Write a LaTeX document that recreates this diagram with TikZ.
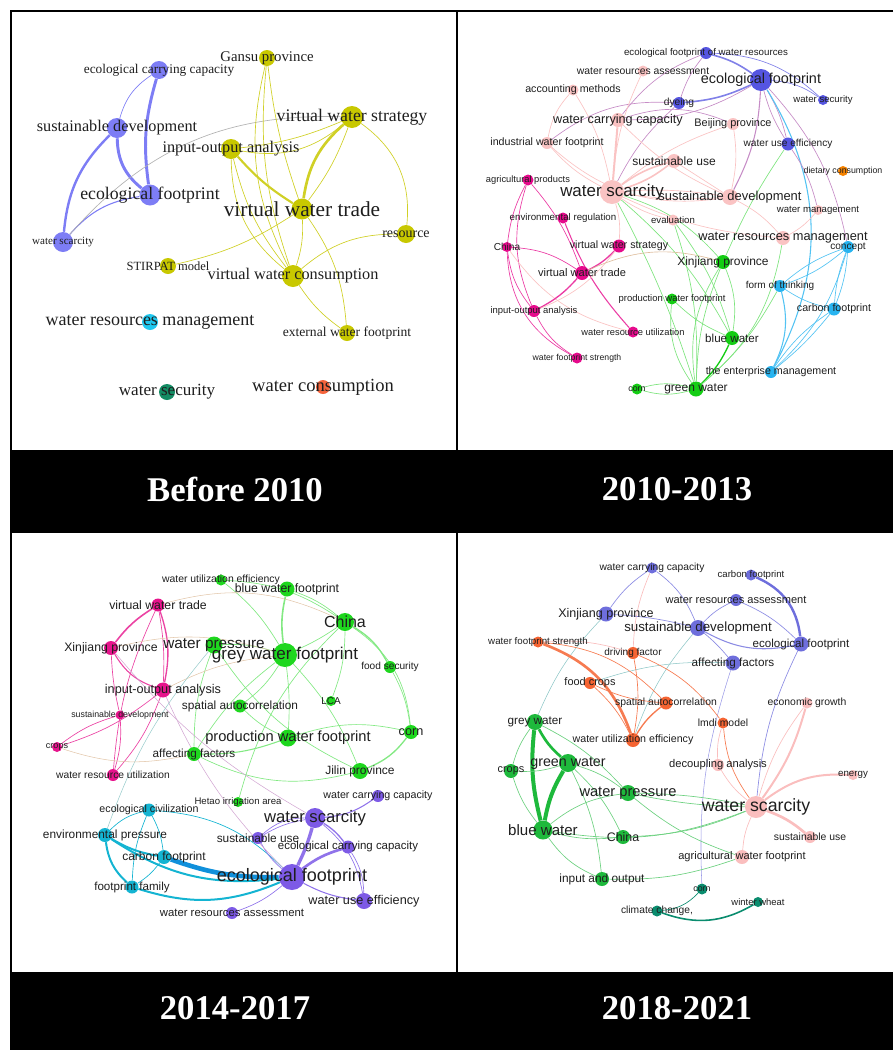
\documentclass[tikz,border=0pt]{standalone}
\usepackage{fontspec}
\setmainfont{Liberation Sans}
\newfontfamily\tnr{Liberation Serif}
\usepackage{tikz}
\usetikzlibrary{backgrounds}
\definecolor{labc}{RGB}{30,30,30}
\definecolor{c1b}{RGB}{125,125,245}
\definecolor{c1y}{RGB}{200,200,0}
\definecolor{c1c}{RGB}{30,200,240}
\definecolor{c1d}{RGB}{20,140,100}
\definecolor{c1o}{RGB}{245,100,60}
\definecolor{c2b}{RGB}{85,85,225}
\definecolor{c2p}{RGB}{250,195,195}
\definecolor{c2m}{RGB}{230,10,140}
\definecolor{c2g}{RGB}{20,205,20}
\definecolor{c2c}{RGB}{40,180,240}
\definecolor{c2o}{RGB}{245,130,0}
\definecolor{c3g}{RGB}{30,215,30}
\definecolor{c3m}{RGB}{230,20,140}
\definecolor{c3c}{RGB}{20,180,210}
\definecolor{c3p}{RGB}{125,90,230}
\definecolor{c4b}{RGB}{110,110,220}
\definecolor{c4o}{RGB}{245,100,50}
\definecolor{c4g}{RGB}{30,185,60}
\definecolor{c4p}{RGB}{250,190,190}
\definecolor{c4t}{RGB}{10,140,110}

\begin{document}
\begin{tikzpicture}[x=0.75pt,y=-0.75pt,
  kw/.style={circle,inner sep=0pt,minimum size=1.5*#1pt},
  tx/.style 2 args={label={[font=\fontsize{#1}{#1}\selectfont,text=labc,inner sep=0pt]center:#2}},
  ts/.style 2 args={label={[font=\tnr\fontsize{#1}{#1}\selectfont,text=labc,inner sep=0pt]center:#2}},
  bartxt/.style={text=white,font=\tnr\bfseries\fontsize{26}{26}\selectfont},
  p1b/.style={draw=c1b,line width=#1pt},p1b/.default=0.5,
  p1y/.style={draw=c1y!85!white,line width=#1pt},p1y/.default=0.5,
  p1g/.style={draw=gray!60,line width=#1pt},p1g/.default=0.5,
  p2b/.style={draw=c2b!75!white,line width=#1pt},p2b/.default=0.5,
  p2v/.style={draw=violet!45!white,line width=#1pt},p2v/.default=0.5,
  p2p/.style={draw=c2p,line width=#1pt},p2p/.default=0.5,
  p2m/.style={draw=c2m!80!white,line width=#1pt},p2m/.default=0.5,
  p2g/.style={draw=c2g!55!white,line width=#1pt},p2g/.default=0.5,
  p2c/.style={draw=c2c!80!white,line width=#1pt},p2c/.default=0.5,
  p3m/.style={draw=c3m!80!white,line width=#1pt},p3m/.default=0.5,
  p3g/.style={draw=c3g!55!white,line width=#1pt},p3g/.default=0.5,
  p3c/.style={draw=c3c,line width=#1pt},p3c/.default=0.5,
  p3p/.style={draw=c3p!85!white,line width=#1pt},p3p/.default=0.5,
  p3x/.style={draw=brown!45!white,line width=#1pt},p3x/.default=0.4,
  p4b/.style={draw=c4b!80!white,line width=#1pt},p4b/.default=0.5,
  p4o/.style={draw=c4o!85!white,line width=#1pt},p4o/.default=0.5,
  p4g/.style={draw=c4g!65!white,line width=#1pt},p4g/.default=0.5,
  p4p/.style={draw=c4p,line width=#1pt},p4p/.default=0.5,
  p4t/.style={draw=c4t,line width=#1pt},p4t/.default=0.5,
  p4x/.style={draw=teal!45!white,line width=#1pt},p4x/.default=0.4]
\useasboundingbox (0,0) rectangle (893,1050);

% Before 2010
\path (159,70) node(ecc1)[kw=9,fill=c1b,ts={10}{ecological carrying capacity}]{}
  (267,58) node(gansu)[kw=8,fill=c1y,ts={11.1}{Gansu province}]{}
  (352,117) node(vws1)[kw=11,fill=c1y,ts={13.3}{virtual water strategy}]{}
  (117,128) node(sd1)[kw=10,fill=c1b,ts={12.2}{sustainable development}]{}
  (231,149) node(io1)[kw=10,fill=c1y,ts={12.2}{input-output analysis}]{}
  (150,195) node(ef1)[kw=10.5,fill=c1b,ts={13.3}{ecological footprint}]{}
  (302,209) node(vwt1)[kw=10.5,fill=c1y,ts={16}{virtual water trade}]{}
  (63,242) node(wsc1)[kw=10,fill=c1b,ts={8.3}{water scarcity}]{}
  (406,234) node(res1)[kw=9,fill=c1y,ts={10.5}{resource}]{}
  (168,266) node(stirpat)[kw=8,fill=c1y,ts={9.4}{STIRPAT model}]{}
  (293,276) node(vwc1)[kw=11,fill=c1y,ts={12.2}{virtual water consumption}]{}
  (150,322) node(wrm1)[kw=8,fill=c1c,ts={13.5}{water resources management}]{}
  (347,333) node(ewf1)[kw=8,fill=c1y,ts={10.2}{external water footprint}]{}
  (167,392) node(wsec1)[kw=8,fill=c1d,ts={12.8}{water security}]{}
  (323,387) node(wcon1)[kw=7,fill=c1o,ts={13.9}{water consumption}]{};

% 2010-2013
\path (706,53) node(efwr2)[kw=6,fill=c2b,tx={7.3}{ecological footprint of water resources}]{}
  (643,71) node(wra2)[kw=5.5,fill=c2p,tx={7.8}{water resources assessment}]{}
  (761,80) node(ef2)[kw=11,fill=c2b,tx={10.8}{ecological footprint}]{}
  (573,90) node(acc2)[kw=5.5,fill=c2p,tx={8}{accounting methods}]{}
  (679,103) node(dye2)[kw=6,fill=c2b,tx={7.7}{dyeing}]{}
  (823,100) node(wsec2)[kw=5,fill=c2b,tx={7.2}{water security}]{}
  (618,120) node(wcc2)[kw=7,fill=c2p,tx={9.5}{water carrying capacity}]{}
  (733,124) node(bj2)[kw=6,fill=c2p,tx={8.2}{Beijing province}]{}
  (547,143) node(iwf2)[kw=6,fill=c2p,tx={8}{industrial water footprint}]{}
  (788,144) node(wue2)[kw=6.5,fill=c2b,tx={7.6}{water use efficiency}]{}
  (674,161) node(su2)[kw=7,fill=c2p,tx={9}{sustainable use}]{}
  (843,171) node(diet2)[kw=5,fill=c2o,tx={6.6}{dietary consumption}]{}
  (528,180) node(ap2)[kw=5.5,fill=c2m,tx={7}{agricultural products}]{}
  (612,192) node(wsc2)[kw=12,fill=c2p,tx={12.7}{water scarcity}]{}
  (730,197) node(sd2)[kw=8,fill=c2p,tx={9.7}{sustainable development}]{}
  (818,210) node(wm2)[kw=5,fill=c2p,tx={7.2}{water management}]{}
  (563,218) node(er2)[kw=5.5,fill=c2m,tx={7.3}{environmental regulation}]{}
  (673,220) node(eva2)[kw=5.5,fill=c2p,tx={7.2}{evaluation}]{}
  (783,238) node(wrm2)[kw=7,fill=c2p,tx={9.6}{water resources management}]{}
  (507,247) node(china2)[kw=5,fill=c2m,tx={7.6}{China}]{}
  (619,246) node(vws2)[kw=6.5,fill=c2m,tx={8}{virtual water strategy}]{}
  (848,247) node(con2)[kw=6,fill=c2c,tx={7.6}{concept}]{}
  (723,262) node(xj2)[kw=7,fill=c2g,tx={9}{Xinjiang province}]{}
  (582,273) node(vwt2)[kw=7,fill=c2m,tx={8.3}{virtual water trade}]{}
  (780,286) node(fot2)[kw=6,fill=c2c,tx={7.5}{form of thinking}]{}
  (672,299) node(pwf2)[kw=5.5,fill=c2g,tx={7.1}{production water footprint}]{}
  (534,311) node(io2)[kw=6,fill=c2m,tx={7.1}{input-output analysis}]{}
  (834,309) node(cf2)[kw=6.5,fill=c2c,tx={8}{carbon footprint}]{}
  (633,332) node(wru2)[kw=5.5,fill=c2m,tx={7}{water resource utilization}]{}
  (732,338) node(bw2)[kw=7,fill=c2g,tx={8.7}{blue water}]{}
  (577,358) node(wfs2)[kw=5.5,fill=c2m,tx={6.5}{water footprint strength}]{}
  (771,372) node(ent2)[kw=6,fill=c2c,tx={8}{the enterprise management}]{}
  (637,389) node(corn2)[kw=5.5,fill=c2g,tx={6.6}{corn}]{}
  (696,389) node(gw2)[kw=7.5,fill=c2g,tx={9}{green water}]{};

% 2014-2017
\path (221,580) node(wue3)[kw=5.5,fill=c3g,tx={7.8}{water utilization efficiency}]{}
  (287,589) node(bwf3)[kw=7.5,fill=c3g,tx={9.2}{blue water footprint}]{}
  (158,605) node(vwt3)[kw=6.5,fill=c3m,tx={9.2}{virtual water trade}]{}
  (345,622) node(china3)[kw=9,fill=c3g,tx={12}{China}]{}
  (111,648) node(xj3)[kw=7,fill=c3m,tx={9.2}{Xinjiang province}]{}
  (214,645) node(wp3)[kw=8.5,fill=c3g,tx={11.5}{water pressure}]{}
  (285,655) node(gwf3)[kw=12,fill=c3g,tx={12.8}{grey water footprint}]{}
  (390,667) node(fs3)[kw=6,fill=c3g,tx={7.6}{food security}]{}
  (163,690) node(io3)[kw=7.5,fill=c3m,tx={9.5}{input-output analysis}]{}
  (240,706) node(sa3)[kw=6.5,fill=c3g,tx={8.9}{spatial autocorrelation}]{}
  (331,701) node(lca3)[kw=5,fill=c3g,tx={7.5}{LCA}]{}
  (120,715) node(sd3)[kw=4.5,fill=c3m,tx={6.6}{sustainable development}]{}
  (411,732) node(corn3)[kw=7,fill=c3g,tx={9.5}{corn}]{}
  (288,738) node(pwf3)[kw=8.5,fill=c3g,tx={11}{production water footprint}]{}
  (57,747) node(crops3)[kw=5,fill=c3m,tx={6.8}{crops}]{}
  (194,754) node(af3)[kw=7,fill=c3g,tx={8.8}{affecting factors}]{}
  (113,775) node(wru3)[kw=6,fill=c3m,tx={7.7}{water resource utilization}]{}
  (360,771) node(jl3)[kw=8,fill=c3g,tx={9}{Jilin province}]{}
  (378,796) node(wcc3)[kw=6,fill=c3p,tx={8}{water carrying capacity}]{}
  (238,802) node(hetao3)[kw=5,fill=c3g,tx={7.2}{Hetao irrigation area}]{}
  (149,810) node(ec3)[kw=6.5,fill=c3c,tx={8}{ecological civilization}]{}
  (315,818) node(wsc3)[kw=10,fill=c3p,tx={12.5}{water scarcity}]{}
  (105,835) node(ep3)[kw=7,fill=c3c,tx={8.9}{environmental pressure}]{}
  (258,838) node(su3)[kw=6,fill=c3p,tx={8.9}{sustainable use}]{}
  (348,847) node(ecc3)[kw=6.5,fill=c3p,tx={8.6}{ecological carrying capacity}]{}
  (164,857) node(cf3)[kw=7,fill=c3c,tx={9}{carbon footprint}]{}
  (292,877) node(ef3)[kw=13,fill=c3p,tx={13.5}{ecological footprint}]{}
  (132,887) node(ff3)[kw=6.5,fill=c3c,tx={8.7}{footprint family}]{}
  (364,901) node(wuse3)[kw=8,fill=c3p,tx={9.5}{water use efficiency}]{}
  (232,913) node(wra3)[kw=6,fill=c3p,tx={8.5}{water resources assessment}]{};

% 2018-2021
\path (652,568) node(wcc4)[kw=5.5,fill=c4b,tx={7.7}{water carrying capacity}]{}
  (751,575) node(cf4)[kw=5.5,fill=c4b,tx={7.2}{carbon footprint}]{}
  (736,600) node(wra4)[kw=6,fill=c4b,tx={8.3}{water resources assessment}]{}
  (606,614) node(xj4)[kw=7.5,fill=c4b,tx={9.4}{Xinjiang province}]{}
  (698,628) node(sd4)[kw=8,fill=c4b,tx={10}{sustainable development}]{}
  (538,642) node(wfs4)[kw=5.5,fill=c4o,tx={7.3}{water footprint strength}]{}
  (801,644) node(ef4)[kw=7.5,fill=c4b,tx={8.7}{ecological footprint}]{}
  (633,653) node(df4)[kw=6,fill=c4o,tx={7.5}{driving factor}]{}
  (733,663) node(af4)[kw=7.5,fill=c4b,tx={8.8}{affecting factors}]{}
  (590,683) node(fc4)[kw=6,fill=c4o,tx={8.2}{food crops}]{}
  (666,703) node(sa4)[kw=6.5,fill=c4o,tx={7.8}{spatial autocorrelation}]{}
  (807,703) node(eg4)[kw=5.5,fill=c4p,tx={7.8}{economic growth}]{}
  (535,722) node(grey4)[kw=8,fill=c4g,tx={8.8}{grey water}]{}
  (723,723) node(lmdi4)[kw=5.5,fill=c4o,tx={7.8}{lmdi model}]{}
  (633,740) node(wue4)[kw=7,fill=c4o,tx={8}{water utilization efficiency}]{}
  (568,763) node(gw4)[kw=9,fill=c4g,tx={10.7}{green water}]{}
  (511,771) node(crops4)[kw=7,fill=c4g,tx={8.2}{crops}]{}
  (718,765) node(dec4)[kw=6,fill=c4p,tx={8.4}{decoupling analysis}]{}
  (853,775) node(en4)[kw=5,fill=c4p,tx={7.3}{energy}]{}
  (628,793) node(wp4)[kw=8,fill=c4g,tx={11}{water pressure}]{}
  (756,807) node(wsc4)[kw=11,fill=c4p,tx={13.3}{water scarcity}]{}
  (543,830) node(bw4)[kw=9.5,fill=c4g,tx={11.3}{blue water}]{}
  (623,837) node(china4)[kw=7,fill=c4g,tx={9.3}{China}]{}
  (810,837) node(su4)[kw=6,fill=c4p,tx={7.8}{sustainable use}]{}
  (742,857) node(awf4)[kw=7,fill=c4p,tx={8.3}{agricultural water footprint}]{}
  (602,879) node(io4)[kw=7,fill=c4g,tx={8.9}{input and output}]{}
  (702,889) node(corn4)[kw=5.5,fill=c4t,tx={6.6}{corn}]{}
  (758,902) node(ww4)[kw=5,fill=c4t,tx={7.1}{winter wheat}]{}
  (657,911) node(cc4)[kw=5.5,fill=c4t,tx={7.7}{{climate change,}}]{};

\begin{scope}[on background layer]
% Before 2010
\draw[p1b, bend right=20] (ecc1) to (sd1);
\draw[p1b=2.2, bend right=12] (ecc1) to (ef1);
\draw[p1b=2.2, bend right=25] (sd1) to (ef1);
\draw[p1b=1.8, bend right=20] (sd1) to (wsc1);
\draw[p1b=0.8, bend right=20] (ef1) to (wsc1);
\draw[p1g, bend left=25] (wsc1) to (vws1);
\draw[p1y, bend right=20] (gansu) to (vwc1);
\draw[p1y, bend right=12] (gansu) to (vwc1);
\draw[p1y, bend right=6] (gansu) to (vwt1);
\draw[p1y=2, bend right=20] (vws1) to (vwt1);
\draw[p1y, bend left=8] (vws1) to (vwt1);
\draw[p1y, bend left=25] (vws1) to (io1);
\draw[p1y, bend left=8] (vws1) to (io1);
\draw[p1y, bend left=30] (vws1) to (res1);
\draw[p1y=1.6, bend right=8] (io1) to (vwt1);
\draw[p1y, bend right=25] (io1) to (vwc1);
\draw[p1y, bend right=12] (io1) to (vwc1);
\draw[p1y, bend left=10] (vwt1) to (vwc1);
\draw[p1y, bend left=15] (vwt1) to (ewf1);
\draw[p1y, bend left=10] (vwt1) to (stirpat);
\draw[p1y, bend left=20] (vwc1) to (res1);
\draw[p1y, bend right=10] (vwc1) to (ewf1);

% 2010-2013
\draw[p2b=1.2, bend right=10] (ef2) to (efwr2);
\draw[p2b, bend left=20] (efwr2) to (wsec2);
\draw[p2b=1.2, bend left=10] (ef2) to (dye2);
\draw[p2b, bend left=15] (ef2) to (wsec2);
\draw[p2v, bend left=8] (ef2) to (wue2);
\draw[p2v, bend right=8] (ef2) to (wue2);
\draw[p2v=0.8, bend left=12] (ef2) to (sd2);
\draw[p2v, bend left=15] (ef2) to (wcc2);
\draw[p2c=0.8, bend left=30] (ef2) to (ent2);
\draw[p2v, bend left=15] (ef2) to (con2);
\draw[p2v, bend right=10] (dye2) to (wsc2);
\draw[p2v, bend right=20] (dye2) to (iwf2);
\draw[p2v, bend right=10] (efwr2) to (dye2);
\draw[p2v, bend right=15] (efwr2) to (wcc2);
\draw[p2v, bend left=20] (wcc2) to (bj2);
\draw[p2g, bend right=5] (wue2) to (xj2);
\draw[p2v, bend left=10] (wue2) to (wm2);
\draw[p2p=1.2, bend left=10] (wsc2) to (su2);
\draw[p2p=1.2, bend right=10] (wsc2) to (su2);
\draw[p2p, bend left=10] (wsc2) to (bj2);
\draw[p2p, bend left=10] (wsc2) to (wra2);
\draw[p2p, bend right=10] (wsc2) to (acc2);
\draw[p2p, bend left=10] (wsc2) to (iwf2);
\draw[p2p, bend right=10] (wsc2) to (eva2);
\draw[p2p, bend left=6] (wsc2) to (sd2);
\draw[p2p, bend right=6] (wsc2) to (sd2);
\draw[p2p, bend right=10] (wsc2) to (wrm2);
\draw[p2p=1.5] (wsc2) to (wcc2);
\draw[p2p, bend left=10] (wsc2) to (vws2);
\draw[p2p, bend right=10] (wcc2) to (sd2);
\draw[p2p, bend right=25] (iwf2) to (sd2);
\draw[p2p, bend right=15] (acc2) to (iwf2);
\draw[p2p, bend left=10] (bj2) to (sd2);
\draw[p2p, bend left=10] (sd2) to (wrm2);
\draw[p2p, bend right=10] (wrm2) to (wm2);
\draw[p2p] (su2) to (sd2);
\draw[p2g, bend left=20] (wrm2) to (gw2);
\draw[p2g, bend left=15] (wsc2) to (xj2);
\draw[p2g, bend left=10] (wsc2) to (bw2);
\draw[p2g, bend left=5] (wsc2) to (gw2);
\draw[p2m, bend right=10] (ap2) to (china2);
\draw[p2m, bend left=10] (ap2) to (vwt2);
\draw[p2m, bend right=20] (ap2) to (io2);
\draw[p2m=0.8, bend right=10] (er2) to (wru2);
\draw[p2m, bend right=15] (china2) to (io2);
\draw[p2m, bend left=15] (china2) to (vwt2);
\draw[p2m, bend right=30] (china2) to (wfs2);
\draw[p2p, bend right=20] (china2) to (wru2);
\draw[p2m=1, bend right=10] (vwt2) to (vws2);
\draw[p2m=1, bend left=10] (vwt2) to (io2);
\draw[p2p, bend right=15] (io2) to (vws2);
\draw[p2m, bend right=15] (io2) to (wfs2);
\draw[draw=brown!50, line width=0.5pt, bend left=20] (vwt2) to (xj2);
\draw[p2g, bend left=15] (xj2) to (bw2);
\draw[p2g, bend right=10] (xj2) to (gw2);
\draw[p2g, bend right=20] (xj2) to (gw2);
\draw[p2g, bend right=10] (pwf2) to (bw2);
\draw[p2g, bend right=20] (pwf2) to (gw2);
\draw[draw=c2g, line width=1pt, bend left=10] (bw2) to (gw2);
\draw[p2g, bend left=15] (corn2) to (gw2);
\draw[p2g, bend right=15] (corn2) to (gw2);
\draw[p2g, bend left=10] (eva2) to (gw2);
\draw[p2g, bend left=10] (eva2) to (bw2);
\draw[p2c, bend left=10] (con2) to (fot2);
\draw[p2c, bend right=10] (con2) to (fot2);
\draw[p2c, bend left=8] (con2) to (cf2);
\draw[p2c, bend right=8] (con2) to (cf2);
\draw[p2c, bend left=15] (con2) to (ent2);
\draw[p2c, bend right=10] (fot2) to (cf2);
\draw[p2c=0.8, bend left=20] (fot2) to (ent2);
\draw[p2c, bend left=6] (cf2) to (ent2);
\draw[p2c, bend right=10] (cf2) to (ent2);
\draw[p2g, bend left=10] (fot2) to (gw2);

% 2014-2017
\draw[p3m=1.2, bend right=10] (vwt3) to (xj3);
\draw[p3m=1, bend left=15] (vwt3) to (io3);
\draw[p3m, bend left=6] (vwt3) to (io3);
\draw[p3m=0.8, bend right=20] (xj3) to (io3);
\draw[p3m, bend right=5] (xj3) to (sd3);
\draw[p3m, bend left=10] (io3) to (crops3);
\draw[p3m, bend left=10] (io3) to (wru3);
\draw[p3m, bend right=10] (sd3) to (crops3);
\draw[p3m, bend right=10] (vwt3) to (wru3);
\draw[p3m, bend left=10] (sd3) to (wru3);
\draw[p3g=1.2, bend right=10] (bwf3) to (gwf3);
\draw[p3g, bend left=10] (bwf3) to (china3);
\draw[p3g, bend left=5] (china3) to (gwf3);
\draw[p3g=1, bend left=15] (china3) to (fs3);
\draw[p3g, bend left=25] (china3) to (corn3);
\draw[p3g, bend left=5] (gwf3) to (pwf3);
\draw[p3g, bend left=10] (gwf3) to (jl3);
\draw[p3g, bend right=10] (gwf3) to (af3);
\draw[p3g=1, bend left=15] (corn3) to (jl3);
\draw[p3g, bend right=15] (corn3) to (pwf3);
\draw[p3g=0.8, bend left=10] (pwf3) to (af3);
\draw[p3g, bend left=10] (wp3) to (gwf3);
\draw[p3g, bend left=15] (wue3) to (china3);
\draw[p3g, bend left=10] (wue3) to (gwf3);
\draw[p3g, bend right=10] (sa3) to (pwf3);
\draw[p3g, bend left=20] (jl3) to (af3);
\draw[p3g, bend right=10] (lca3) to (china3);
\draw[p3g, bend right=10] (wp3) to (af3);
\draw[p3g, bend left=10] (fs3) to (corn3);
\draw[p3g, bend right=15] (china3) to (hetao3);
\draw[p3g, bend left=10] (gwf3) to (sa3);
\draw[p3g, bend right=15] (wp3) to (jl3);
\draw[p3c, bend right=15] (ec3) to (ep3);
\draw[p3c, bend left=10] (ec3) to (cf3);
\draw[p3c, bend right=10] (ec3) to (ff3);
\draw[p3c=1.5, bend right=10] (ep3) to (cf3);
\draw[p3c=1.5, bend right=20] (ep3) to (ff3);
\draw[draw=c3c!80!blue, line width=3.5pt, bend right=10] (cf3) to (ef3);
\draw[p3c=1.5, bend right=20] (ep3) to (ef3);
\draw[p3c=1.5, bend right=20] (ff3) to (ef3);
\draw[p3c, bend left=10] (cf3) to (ff3);
\draw[p3c, bend left=20] (ec3) to (ef3);
\draw[p3p=2.5, bend left=5] (wsc3) to (ef3);
\draw[p3p, bend right=10] (wsc3) to (su3);
\draw[p3p, bend right=20] (wsc3) to (su3);
\draw[p3p=1, bend left=10] (wsc3) to (ecc3);
\draw[p3p, bend left=20] (wsc3) to (wuse3);
\draw[p3p=2, bend left=10] (ef3) to (ecc3);
\draw[p3p, bend left=10] (ef3) to (su3);
\draw[p3p=0.8, bend right=10] (ef3) to (wuse3);
\draw[p3p, bend left=15] (ecc3) to (wuse3);
\draw[p3p=0.8, bend right=15] (wsc3) to (wcc3);
\draw[p3p, bend left=10] (ef3) to (wra3);
\draw[p3x, bend left=20] (vwt3) to (china3);
\draw[p3x, bend left=15] (xj3) to (gwf3);
\draw[p3x, bend left=10] (io3) to (gwf3);
\draw[draw=violet!35, line width=0.4pt, bend right=10] (io3) to (ef3);
\draw[draw=violet!35, line width=0.4pt, bend right=10] (xj3) to (wsc3);
\draw[draw=teal!40, line width=0.4pt, bend left=10] (ep3) to (wp3);
\draw[p3x, bend right=15] (crops3) to (af3);

% 2018-2021
\draw[p4b, bend right=10] (wcc4) to (xj4);
\draw[p4b, bend left=15] (wcc4) to (sd4);
\draw[draw=c4p, line width=0.5pt, bend right=10] (wcc4) to (df4);
\draw[draw=c4b, line width=1.8pt, bend left=30] (cf4) to (ef4);
\draw[p4b, bend right=10] (wra4) to (sd4);
\draw[p4b, bend left=10] (wra4) to (ef4);
\draw[p4b, bend left=5] (xj4) to (sd4);
\draw[p4b=0.8, bend right=20] (sd4) to (ef4);
\draw[p4b, bend left=5] (sd4) to (af4);
\draw[p4b, bend right=10] (ef4) to (wsc4);
\draw[p4x, bend right=10] (xj4) to (grey4);
\draw[p4x, bend right=10] (sd4) to (wue4);
\draw[p4x, bend right=10] (af4) to (fc4);
\draw[draw=c4b!70, line width=0.4pt, bend right=10] (af4) to (corn4);
\draw[p4o=2, bend left=25] (wfs4) to (wue4);
\draw[p4o, bend left=20] (wfs4) to (sa4);
\draw[draw=c4p, line width=0.5pt, bend left=10] (wfs4) to (df4);
\draw[p4o, bend right=10] (fc4) to (sa4);
\draw[p4o, bend left=10] (fc4) to (wue4);
\draw[p4o, bend left=10] (df4) to (wue4);
\draw[p4o=1, bend right=10] (sa4) to (wue4);
\draw[p4o, bend left=15] (df4) to (lmdi4);
\draw[draw=c4g, line width=2pt, bend right=10] (grey4) to (gw4);
\draw[draw=c4g, line width=3pt, bend right=10] (grey4) to (bw4);
\draw[draw=c4g, line width=3pt, bend right=10] (gw4) to (bw4);
\draw[p4g, bend left=10] (crops4) to (grey4);
\draw[p4g, bend right=10] (crops4) to (gw4);
\draw[p4g, bend right=10] (crops4) to (bw4);
\draw[p4g, bend left=10] (gw4) to (wp4);
\draw[p4g, bend left=15] (bw4) to (wp4);
\draw[p4g, bend right=10] (bw4) to (china4);
\draw[p4g, bend right=15] (bw4) to (io4);
\draw[p4g, bend left=10] (gw4) to (io4);
\draw[p4g, bend left=5] (wp4) to (wsc4);
\draw[p4g, bend right=5] (wp4) to (wsc4);
\draw[p4g, bend right=10] (china4) to (wsc4);
\draw[p4g, bend right=15] (bw4) to (wsc4);
\draw[p4g, bend left=10] (gw4) to (china4);
\draw[p4g, bend right=10] (wp4) to (awf4);
\draw[p4g, bend left=10] (grey4) to (wp4);
\draw[p4g, bend right=10] (io4) to (awf4);
\draw[p4p=1.5, bend left=20] (wsc4) to (en4);
\draw[p4p=2, bend left=10] (wsc4) to (su4);
\draw[p4p=1.5, bend right=10] (wsc4) to (eg4);
\draw[p4p, bend left=10] (wsc4) to (eg4);
\draw[p4p, bend left=10] (wsc4) to (dec4);
\draw[p4p, bend right=10] (wsc4) to (awf4);
\draw[p4p, bend left=10] (dec4) to (lmdi4);
\draw[p4o, bend right=15] (lmdi4) to (wsc4);
\draw[p4t, bend left=20] (corn4) to (cc4);
\draw[p4t=1.2, bend right=25] (cc4) to (ww4);
\end{scope}

% frame and bars
\fill (10,450) rectangle (893,533);
\fill (10,972) rectangle (893,1050);
\draw[line width=2.2pt] (893,11) -- (11,11) -- (11,1050);
\draw[line width=2pt] (457,11) -- (457,450) (457,533) -- (457,972);
\node (t1) at (235,489) [bartxt] {Before 2010};
\node (t2) at (677,489) [bartxt] {2010-2013};
\node (t3) at (235,1008) [bartxt] {2014-2017};
\node (t4) at (677,1008) [bartxt] {2018-2021};
\end{tikzpicture}
\end{document}
